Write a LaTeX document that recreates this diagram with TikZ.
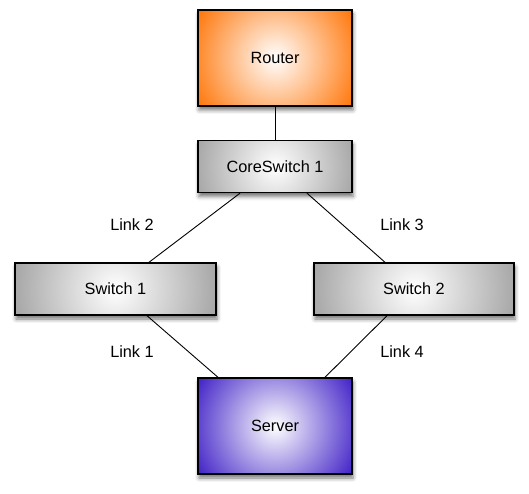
\documentclass[tikz,border=0pt]{standalone}
\usepackage{fontspec}
\setmainfont{Liberation Sans}
\usetikzlibrary{shadows.blur}
\definecolor{routerorange}{RGB}{255,122,16}
\definecolor{servpurple}{RGB}{70,40,200}
\definecolor{boxgray}{RGB}{165,165,165}
\begin{document}
\begin{tikzpicture}[x=1pt,y=-1pt,
    font=\fontsize{16.3}{19}\selectfont,
    dev/.style 2 args={draw=black,line width=1.4pt,fill=#1,
      path picture={\shade[inner color=white,outer color=#1]
        (path picture bounding box.center) circle (#2);},
      blur shadow={shadow xshift=1pt,shadow yshift=-4pt,shadow blur radius=4pt,shadow opacity=55}},
    big/.style={dev={#1}{88pt},minimum width=154pt,minimum height=96pt},
    sw/.style={dev={boxgray}{#1},minimum height=52pt},
    link/.style={line width=0.9pt}
  ]
      \useasboundingbox (0,0) rectangle (529,494);

      % DEVICES
      \node[big=routerorange] (router) at (275,58) {Router};
      \node[sw=82pt,minimum width=154pt] (core) at (275,166.5) {CoreSwitch 1};
      \node[sw=104pt,minimum width=201pt] (sw1) at (115.5,289) {Switch 1};
      \node[sw=104pt,minimum width=200pt] (sw2) at (414,289) {Switch 2};
      \node[big=servpurple] (server) at (275,426) {Server};

      % LINKS
      \draw[link] (router) -- (core);
      \draw[link] ([xshift=-35pt]core.south) -- ([xshift=33.5pt]sw1.north);
      \draw[link] ([xshift=32pt]core.south) -- ([xshift=-29pt]sw2.north);
      \draw[link] ([xshift=31.5pt]sw1.south) -- ([xshift=-57pt]server.north);
      \draw[link] ([xshift=-27pt]sw2.south) -- ([xshift=50pt]server.north);

      % NOTES
      \node (l2) at (132,225) {Link 2};
      \node (l3) at (402,225) {Link 3};
      \node (l1) at (132,352) {Link 1};
      \node (l4) at (402,352) {Link 4};
\end{tikzpicture}
\end{document}
